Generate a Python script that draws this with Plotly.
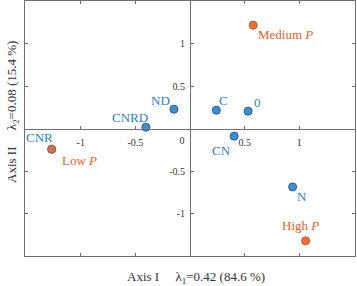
import plotly.graph_objects as go

# Data
treat_names = ["ND", "CNRD", "C", "0", "CN", "N", "CNR"]
treat_x = [-0.147, -0.404, 0.241, 0.532, 0.404, 0.939, -1.266]
treat_y = [0.227, 0.015, 0.215, 0.204, -0.09, -0.687, -0.244]

env_names = ["Medium <i>P</i>", "Low <i>P</i>", "High <i>P</i>"]
env_x = [0.578, -1.266, 1.058]
env_y = [1.215, -0.244, -1.322]

tick_vals = [-1, -0.5, 0.5, 1]
tick_text = ["-1", "-0.5", "0.5", "1"]

# label offsets (px)
treat_off = {"ND": (-13, 9), "CNRD": (-16, 10), "C": (7, 10), "0": (9, 9),
             "CN": (-13, -14), "N": (9, -10), "CNR": (-12, 12)}
env_off = [(32, -9), (28, -11), (-5, 15)]
env_opacity = [1, 0.8, 1]

BLUE = "#3d8fd1"
BLUE_LINE = "#1f5f9a"
BLUE_TXT = "#2b7fc4"
ORANGE = "#ef7035"
ORANGE_LINE = "#c0562a"
ORANGE_TXT = "#e0602e"
FONT = "Liberation Serif, Times New Roman, serif"
AX = "#707070"

fig = go.Figure()
fig.add_trace(go.Scatter(x=treat_x, y=treat_y, mode="markers",
                         marker=dict(size=8, color=BLUE, line=dict(color=BLUE_LINE, width=1)),
                         showlegend=False, hoverinfo="skip"))
fig.add_trace(go.Scatter(x=env_x, y=env_y, mode="markers",
                         marker=dict(size=8, color=ORANGE, opacity=env_opacity,
                                     line=dict(color=ORANGE_LINE, width=1)),
                         showlegend=False, hoverinfo="skip"))

for n, x, y in zip(treat_names, treat_x, treat_y):
    dx, dy = treat_off[n]
    fig.add_annotation(x=x, y=y, text=n, showarrow=False, xshift=dx, yshift=dy,
                       font=dict(family=FONT, size=13, color=BLUE_TXT))
for n, x, y, (dx, dy) in zip(env_names, env_x, env_y, env_off):
    fig.add_annotation(x=x, y=y, text=n, showarrow=False, xshift=dx, yshift=dy,
                       font=dict(family=FONT, size=13, color=ORANGE_TXT))

R = [-1.51, 1.51]
RY = [-1.5, 1.5]
tickfont = dict(family=FONT, size=10, color="#333333")

fig.update_layout(
    width=357, height=286, margin=dict(l=25, r=2, t=1, b=30, autoexpand=False),
    plot_bgcolor="white", paper_bgcolor="white",
    font=dict(family=FONT),
    xaxis=dict(range=R, showgrid=False, zeroline=False, showline=True, mirror="ticks",
               linecolor=AX, linewidth=1, ticks="inside", ticklen=3, tickcolor=AX,
               tickvals=tick_vals, showticklabels=False, automargin=False),
    yaxis=dict(range=RY, showgrid=False, zeroline=False, showline=True, mirror="ticks",
               linecolor=AX, linewidth=1, ticks="inside", ticklen=3, tickcolor=AX,
               tickvals=tick_vals, showticklabels=False, automargin=False),
    xaxis2=dict(range=R, overlaying="x", anchor="free", position=0.5, side="bottom",
                showgrid=False, zeroline=False, showline=True, linecolor=AX, linewidth=1,
                ticks="inside", ticklen=3, tickcolor=AX, tickvals=tick_vals,
                ticktext=tick_text, tickfont=tickfont, ticklabelstandoff=4, automargin=False),
    xaxis3=dict(range=R, overlaying="x", anchor="free", position=0.5, side="bottom",
                showgrid=False, zeroline=False, showline=False, ticks="",
                tickvals=[0], ticktext=["0"], tickfont=tickfont, ticklabelshift=-8,
                ticklabelstandoff=4, automargin=False),
    yaxis2=dict(range=RY, overlaying="y", anchor="free", position=0.5, side="left",
                showgrid=False, zeroline=False, showline=True, linecolor=AX, linewidth=1,
                ticks="inside", ticklen=3, tickcolor=AX, tickvals=tick_vals,
                ticktext=tick_text, tickfont=tickfont, ticklabelstandoff=3, automargin=False),
)
# invisible traces so overlay axes render
fig.add_trace(go.Scatter(x=[None], y=[None], xaxis="x2", yaxis="y2", showlegend=False))
fig.add_trace(go.Scatter(x=[None], y=[None], xaxis="x3", yaxis="y2", showlegend=False))

fig.add_annotation(xref="paper", yref="paper", x=(196 - 25) / 330, y=0, yshift=-21,
                   yanchor="middle", showarrow=False,
                   text="Axis I&nbsp;&nbsp;&nbsp;&nbsp;&nbsp;λ<sub>1</sub>=0.42 (84.6 %)",
                   font=dict(family=FONT, size=13, color="#333333"))
fig.add_annotation(xref="paper", yref="paper", x=0, xshift=-13, y=(256 - 112) / 255,
                   xanchor="center", yanchor="middle", showarrow=False, textangle=-90,
                   text="Axis II&nbsp;&nbsp;&nbsp;&nbsp;&nbsp;λ<sub>2</sub>=0.08 (15.4 %)",
                   font=dict(family=FONT, size=13, color="#333333"))

fig.write_html("out.html", config={"displayModeBar": False},
               post_script="document.body.style.margin='0';document.body.style.overflow='hidden';")
